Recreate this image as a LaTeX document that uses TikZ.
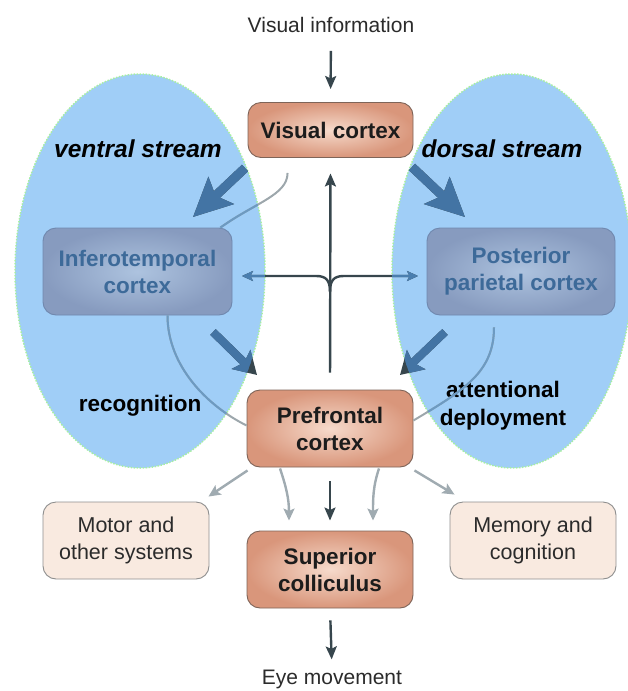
\documentclass[tikz,border=0pt]{standalone}
\usepackage{fontspec}
\setmainfont{Liberation Sans}
\usetikzlibrary{arrows.meta,calc}
\pgfdeclarelayer{background}
\pgfsetlayers{background,main}

\definecolor{streamfill}{HTML}{A0CEF7}
\definecolor{streamrim}{HTML}{A8EFA2}
\definecolor{salmonin}{HTML}{F6DACB}
\definecolor{salmonout}{HTML}{D9967B}
\definecolor{salmonedge}{HTML}{7E6458}
\definecolor{areain}{HTML}{ADC3DF}
\definecolor{areaout}{HTML}{879BBF}
\definecolor{areaedge}{HTML}{7088AE}
\definecolor{areaink}{HTML}{3D6A99}
\definecolor{plainfill}{HTML}{F9EAE0}
\definecolor{plainedge}{HTML}{8E8E8E}
\definecolor{ink}{HTML}{1C1C1C}
\definecolor{softink}{HTML}{2B2B2B}
\definecolor{arrowdark}{HTML}{37464D}
\definecolor{arrowgray}{HTML}{A0ABB1}
\definecolor{linkgray}{HTML}{9DA7AC}
\definecolor{linkblue}{HTML}{6C9AC2}
\definecolor{streamblue}{HTML}{4374A4}
\definecolor{branchblue}{HTML}{4A7EAF}

% the two stream regions, used as a clip so lines change colour inside them
\newcommand\clipstreams{\clip (140,271) ellipse [x radius=125pt, y radius=197pt]
  (512,271) ellipse [x radius=120pt, y radius=197pt];}
% draw a path in one colour outside the stream regions and another inside
\newcommand\twotone[4]{\draw[#1,draw=#2] #4;
  \begin{scope}\clipstreams\draw[#1,draw=#3] #4;\end{scope}}

\begin{document}
\begin{tikzpicture}[x=1pt,y=-1pt,
  cortexbox/.style={rounded corners=13pt, draw=salmonedge, line width=0.9pt,
    shading=radial, inner color=salmonin, outer color=salmonout,
    align=center, text=ink, inner sep=0pt,
    font=\bfseries\fontsize{22.5}{27}\selectfont},
  areabox/.style={rounded corners=13pt, draw=areaedge, line width=0.9pt,
    shading=radial, inner color=areain, outer color=areaout,
    align=center, text=areaink, inner sep=0pt,
    font=\bfseries\fontsize{22.5}{27}\selectfont},
  plainbox/.style={rounded corners=13pt, draw=plainedge, line width=0.9pt,
    fill=plainfill, align=center, text=softink, inner sep=0pt,
    minimum width=166pt, minimum height=77pt,
    font=\fontsize{21.5}{27}\selectfont},
  plaintext/.style={text=softink, inner sep=0pt, font=\fontsize{21}{25}\selectfont},
  streamlabel/.style={text=black, inner sep=0pt,
    font=\bfseries\itshape\fontsize{24.5}{28}\selectfont},
  notelabel/.style={text=black, inner sep=0pt, align=center,
    font=\bfseries\fontsize{22.5}{28}\selectfont},
  darkarrow/.style={draw=arrowdark, line width=2.4pt,
    -{Stealth[length=13pt,width=11pt,inset=2.5pt]}},
  grayarrow/.style={draw=arrowgray, line width=2.4pt,
    -{Stealth[length=12pt,width=11pt,inset=2.5pt]}},
  branch/.style={line width=2.4pt, -{Stealth[length=11pt,width=10pt,inset=2.5pt]}},
  link/.style={line width=2pt},
  bigstream/.style={line width=9pt, -{Stealth[length=38pt,width=36pt,inset=7pt]}},
  smallstream/.style={line width=8pt, -{Stealth[length=22pt,width=26pt,inset=4pt]}}
]
\useasboundingbox (0,0) rectangle (628,691);

% boxes
\node[cortexbox, minimum width=165pt, minimum height=55pt] (vc) at (330.5,130) {Visual cortex};
\node[areabox, minimum width=189pt, minimum height=87pt] (it) at (137.5,271.5) {Inferotemporal\\cortex};
\node[areabox, minimum width=188pt, minimum height=87pt] (ppc) at (521,271.5) {Posterior\\parietal cortex};
\node[cortexbox, minimum width=166pt, minimum height=77pt] (pfc) at (330,428.5) {Prefrontal\\cortex};
\node[cortexbox, minimum width=166pt, minimum height=77pt] (sc) at (330,569.5) {Superior\\colliculus};
\node[plainbox] (motor) at (126,540.5) {Motor and\\other systems};
\node[plainbox] (memory) at (533,540.5) {Memory and\\cognition};

% free texts
\node[plaintext] (vinfo) at (331,25) {Visual information};
\node[plaintext] (eye) at (332,679) {Eye movement};
\node[streamlabel] (ventral) at (138,149) {ventral stream};
\node[streamlabel] (dorsal) at (502,149) {dorsal stream};
\node[notelabel] (recog) at (140,406) {recognition};
\node[notelabel] (attn) at (503,406) {attentional\\deployment};

% stream regions
\begin{pgfonlayer}{background}
  \fill[streamfill] (140,271) ellipse [x radius=125pt, y radius=197pt];
  \fill[streamfill] (512,271) ellipse [x radius=120pt, y radius=197pt];
  \draw[streamrim, line width=1.5pt, dash pattern=on 1.5pt off 1.5pt]
    (140,271) ellipse [x radius=125pt, y radius=197pt]
    (512,271) ellipse [x radius=120pt, y radius=197pt];
\end{pgfonlayer}

% end points of the stream arrows and the fork
\coordinate (vtail) at (245,168);  \coordinate (vhead) at (193,217);
\coordinate (vtail2) at (213,332); \coordinate (vhead2) at (257,375);
\coordinate (dtail) at (412,167);  \coordinate (dhead) at (465,217);
\coordinate (dtail2) at (445,332); \coordinate (dhead2) at (400,375);
\coordinate (fork) at (330,292);
\coordinate (itin) at (242,276);   \coordinate (ppcin) at (418,276);

% thin feedback links
\twotone{link}{linkgray}{linkblue}{($(vc.south west)+(40,15)$) .. controls +(0,22) and +(35,-25) .. ($(it.north east)+(-12,0)$)}
\twotone{link}{linkgray}{linkblue}{($(it.south)+(30,0)$) .. controls +(0,50) and +(-40,-20) .. ($(pfc.west)+(0,-3)$)}
\twotone{link}{linkgray}{linkblue}{($(ppc.south)+(-27,12)$) .. controls +(0,45) and +(50,-30) .. ($(pfc.east)+(0,-8)$)}

% ventral and dorsal stream arrows
\twotone{bigstream}{arrowdark}{streamblue}{(vtail) -- (vhead)}
\twotone{bigstream}{arrowdark}{streamblue}{(dtail) -- (dhead)}
\twotone{smallstream}{arrowdark}{streamblue}{(vtail2) -- (vhead2)}
\twotone{smallstream}{arrowdark}{streamblue}{(dtail2) -- (dhead2)}

% prefrontal feedback to visual cortex and both streams
\draw[darkarrow, shorten <=17pt, shorten >=15.5pt] (pfc.north) -- (vc.south);
\twotone{branch}{arrowdark}{branchblue}{(fork) .. controls (330,280) and (326,276) .. (316,276) -- (itin)}
\twotone{branch}{arrowdark}{branchblue}{(fork) .. controls (330,280) and (334,276) .. (344,276) -- (ppcin)}

% main pathway
\draw[darkarrow, shorten <=18pt, shorten >=13pt] (vinfo.south) -- (vc.north);
\draw[darkarrow, shorten <=14pt, shorten >=10pt] (pfc.south) -- (sc.north);
\draw[darkarrow, shorten <=12pt, shorten >=10pt] (sc.south) -- (eye.north);

% prefrontal outputs
\draw[grayarrow] ($(pfc.south west)+(1,3)$) -- ($(motor.north east)+(-1,-5)$);
\draw[grayarrow] ($(pfc.south east)+(1,3)$) -- ($(memory.north west)+(5,-7)$);
\draw[grayarrow] ($(pfc.south)+(-50,1)$) .. controls +(6,18) and +(0,-22) .. ($(sc.north)+(-41,-10)$);
\draw[grayarrow] ($(pfc.south)+(49,1)$) .. controls +(-6,18) and +(0,-22) .. ($(sc.north)+(43,-10)$);
\end{tikzpicture}
\end{document}
